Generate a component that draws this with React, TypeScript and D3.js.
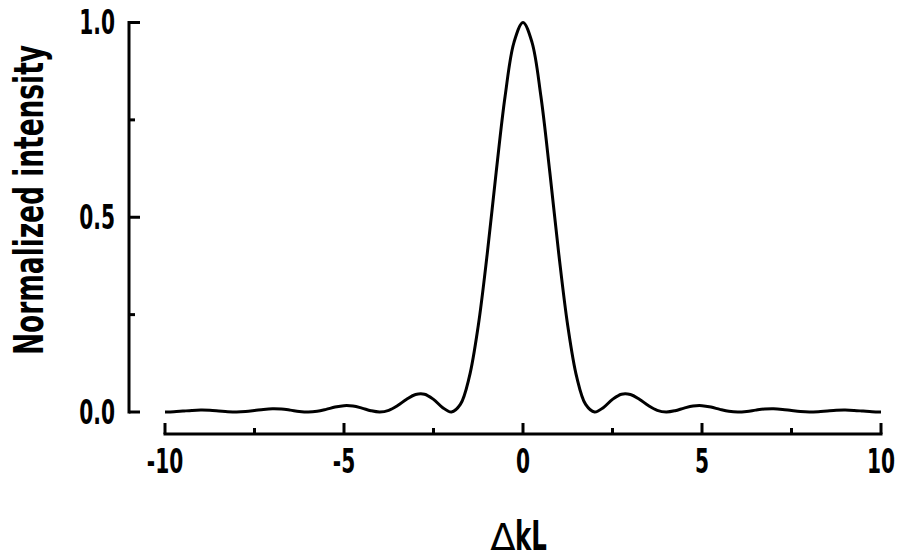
import React from "react";
import * as d3 from "d3";

// ΔkL samples, -10 .. 10 in steps of 0.25
const xValues: number[] = d3.range(-40, 41).map(i => i / 4);

// normalized intensity at each sample
const intensity: number[] = [
  0, 0.0006, 0.0023, 0.004, 0.005, 0.0045, 0.0028, 0.0009,
  0, 0.001, 0.0036, 0.0066, 0.0083, 0.0076, 0.0048, 0.0015,
  0, 0.0018, 0.0067, 0.0126, 0.0162, 0.0153, 0.01, 0.0033,
  0, 0.0042, 0.0165, 0.0328, 0.045, 0.0457, 0.0324, 0.0117,
  0, 0.0194, 0.09, 0.2214, 0.4053, 0.615, 0.8106, 0.9497,
  1,
  0.9497, 0.8106, 0.615, 0.4053, 0.2214, 0.09, 0.0194, 0,
  0.0117, 0.0324, 0.0457, 0.045, 0.0328, 0.0165, 0.0042, 0,
  0.0033, 0.01, 0.0153, 0.0162, 0.0126, 0.0067, 0.0018, 0,
  0.0015, 0.0048, 0.0076, 0.0083, 0.0066, 0.0036, 0.001, 0,
  0.0009, 0.0028, 0.0045, 0.005, 0.004, 0.0023, 0.0006, 0,
];

const xTicks = [-10, -5, 0, 5, 10];
const xMinorTicks = [-7.5, -2.5, 2.5, 7.5];
const yTicks = [0, 0.5, 1];
const yMinorTicks = [0.25, 0.75];

const font = "'DejaVu Sans Condensed', 'DejaVu Sans', sans-serif";
const squeeze = 0.68; // the original face is a very narrow one

const App = () => {
  const width = 899;
  const height = 558;

  const x = d3.scaleLinear().domain([-10, 10]).range([165, 881]);
  const y = d3.scaleLinear().domain([0, 1]).range([412, 22.5]);
  const axisY = 434; // x axis is offset below the data
  const axisX = 129;

  const line = d3
    .line<number>()
    .x((d, i) => x(xValues[i]))
    .y(d => y(d))
    .curve(d3.curveCatmullRom.alpha(0.5));

  return (
    <svg width={width} height={height} style={{ position: "absolute", left: 0, top: 0 }}>
      <rect width={width} height={height} fill="#fff" />

      {/* y axis */}
      <line x1={axisX} x2={axisX} y1={y(1) - 1.5} y2={y(0) + 1.5} stroke="#000" strokeWidth={3} />
      {yTicks.map(t => (
        <g key={t}>
          <line x1={axisX} x2={axisX + 11} y1={y(t)} y2={y(t)} stroke="#000" strokeWidth={3} />
          <text
            transform={`translate(115,${y(t)}) scale(${squeeze},1)`}
            dy="0.36em"
            textAnchor="end"
            fontFamily={font}
            fontWeight="bold"
            fontSize={33}
          >
            {d3.format(".1f")(t)}
          </text>
        </g>
      ))}
      {yMinorTicks.map(t => (
        <line key={t} x1={axisX} x2={axisX + 6} y1={y(t)} y2={y(t)} stroke="#000" strokeWidth={3} />
      ))}

      {/* x axis */}
      <line x1={x(-10) - 1.5} x2={x(10) + 1.5} y1={axisY} y2={axisY} stroke="#000" strokeWidth={3} />
      {xTicks.map(t => (
        <g key={t}>
          <line x1={x(t)} x2={x(t)} y1={axisY} y2={axisY - 11} stroke="#000" strokeWidth={3} />
          <text
            transform={`translate(${x(t)},473) scale(${squeeze},1)`}
            textAnchor="middle"
            fontFamily={font}
            fontWeight="bold"
            fontSize={33}
          >
            {t}
          </text>
        </g>
      ))}
      {xMinorTicks.map(t => (
        <line key={t} x1={x(t)} x2={x(t)} y1={axisY} y2={axisY - 6} stroke="#000" strokeWidth={3} />
      ))}

      {/* curve */}
      <path d={line(intensity) || ""} fill="none" stroke="#000" strokeWidth={3} strokeLinejoin="round" />

      {/* axis titles */}
      <text
        transform="translate(43,200) rotate(-90)"
        textAnchor="middle"
        fontFamily={font}
        fontWeight="bold"
        fontSize={40}
        textLength={310}
        lengthAdjust="spacingAndGlyphs"
      >
        Normalized intensity
      </text>
      <text
        x={503}
        y={550}
        textAnchor="middle"
        fontFamily="'DejaVu Sans', sans-serif"
        fontSize={37}
      >
        Δ
      </text>
      <text
        transform={`translate(515,550) scale(${squeeze},1)`}
        fontFamily={font}
        fontWeight="bold"
        fontSize={40}
      >
        kL
      </text>
    </svg>
  );
};

export default App;
